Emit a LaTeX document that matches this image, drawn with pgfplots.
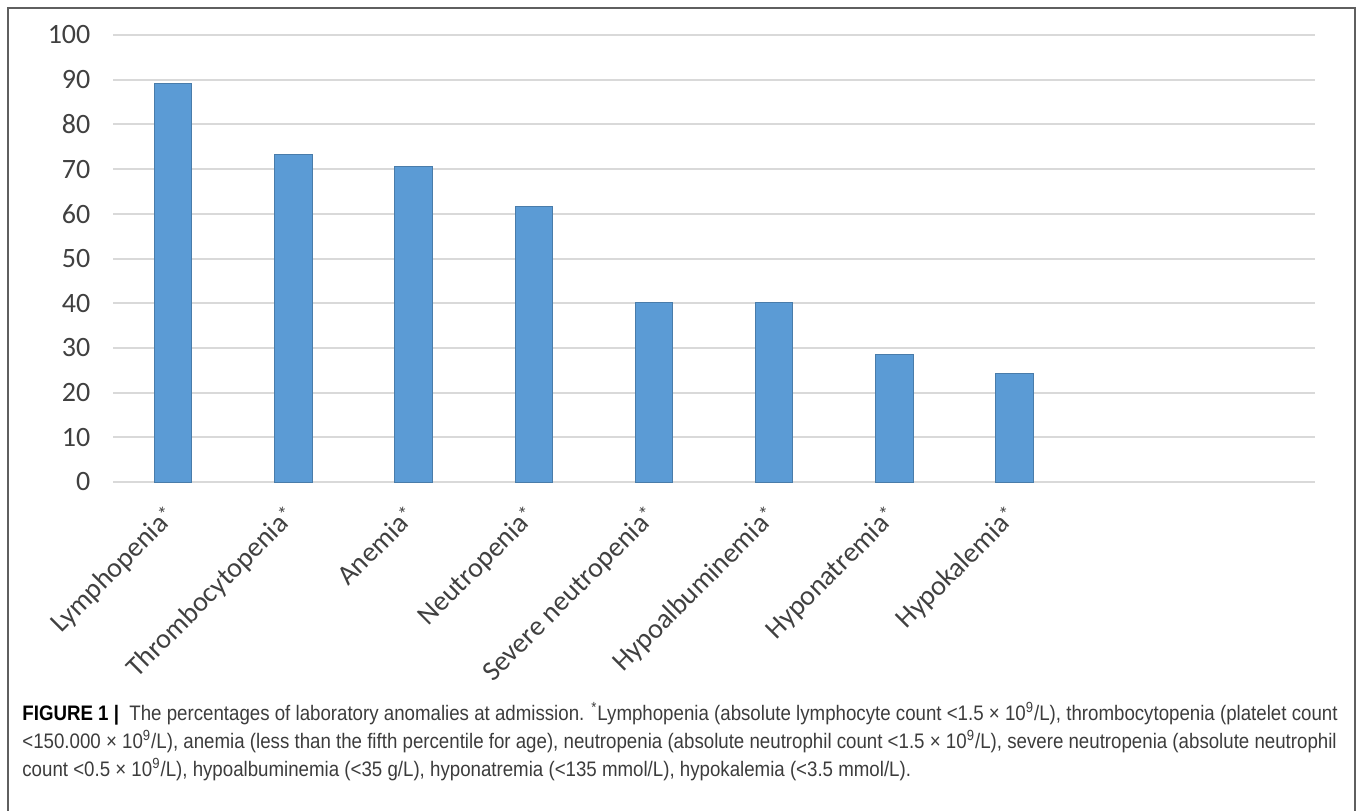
\documentclass[border=0pt]{standalone}
\usepackage{pgfplots}
\pgfplotsset{compat=1.18}
\usepackage{pgfplotstable}
\usepackage{fontspec}
\setmainfont{Carlito}
\newfontfamily\capfont[FakeStretch=0.89]{Liberation Sans}

\definecolor{barblue}{RGB}{91,155,213}
\definecolor{gridgray}{RGB}{217,217,217}
\definecolor{labgray}{RGB}{64,64,64}
\definecolor{framegray}{RGB}{95,95,95}
\definecolor{capgray}{RGB}{60,60,60}

\newcommand{\labast}{\raisebox{2.5pt}{\fontsize{10}{10}\selectfont *}}

% percentage of patients per anomaly
\pgfplotstableread{
idx val
0 89.1
1 73.2
2 70.6
3 61.7
4 40.1
5 40.1
6 28.5
7 24.3
}\labdata

\begin{document}
\begin{tikzpicture}
\useasboundingbox (0,0) rectangle (679pt,405pt);
\draw[framegray, line width=1.2pt] (4pt,-1pt) -- (4pt,401pt) -- (677.5pt,401pt) -- (677.5pt,-1pt);
\begin{axis}[
    at={(56.5pt,164pt)}, anchor=south west,
    scale only axis, width=601pt, height=223.5pt,
    xmin=-0.5, xmax=9.5, ymin=0, ymax=100,
    axis line style={draw=none},
    major tick length=0pt,
    ytick={0,10,...,100},
    ymajorgrids,
    grid style={gridgray, line width=1pt},
    xtick={0,...,7},
    xticklabels={Lymphopenia\labast,Thrombocytopenia\labast,Anemia\labast,Neutropenia\labast,Severe neutropenia\labast,Hypoalbuminemia\labast,Hyponatremia\labast,Hypokalemia\labast},
    yticklabel style={font=\fontsize{14}{16}\selectfont, text=labgray, xshift=-7.8pt},
    xticklabel style={xshift=-5pt, yshift=-11pt, font=\fontsize{14}{16}\selectfont, text=labgray, rotate=45, anchor=north east, inner sep=0pt},
    /pgf/number format/assume math mode=true,
    bar width=0.31,
]
\addplot[ybar, fill=barblue, draw=barblue!80!black, line width=0.4pt] table[x=idx,y=val]{\labdata};
\end{axis}
\begin{scope}[capgray]
\node[anchor=base west, inner sep=0pt] at (11pt,45pt) {\capfont\fontsize{10.5}{12}\selectfont\textbf{\color{black}FIGURE 1 |}\ \ The percentages of laboratory anomalies at admission. \textsuperscript{*}Lymphopenia (absolute lymphocyte count <1.5 × 10\textsuperscript{9}/L), thrombocytopenia (platelet count};
\node[anchor=base west, inner sep=0pt] at (11pt,31pt) {\capfont\fontsize{10.5}{12}\selectfont <150.000 × 10\textsuperscript{9}/L), anemia (less than the fifth percentile for age), neutropenia (absolute neutrophil count <1.5 × 10\textsuperscript{9}/L), severe neutropenia (absolute neutrophil};
\node[anchor=base west, inner sep=0pt] at (11pt,17pt) {\capfont\fontsize{10.5}{12}\selectfont count <0.5 × 10\textsuperscript{9}/L), hypoalbuminemia (<35 g/L), hyponatremia (<135 mmol/L), hypokalemia (<3.5 mmol/L).};
\end{scope}
\end{tikzpicture}
\end{document}
